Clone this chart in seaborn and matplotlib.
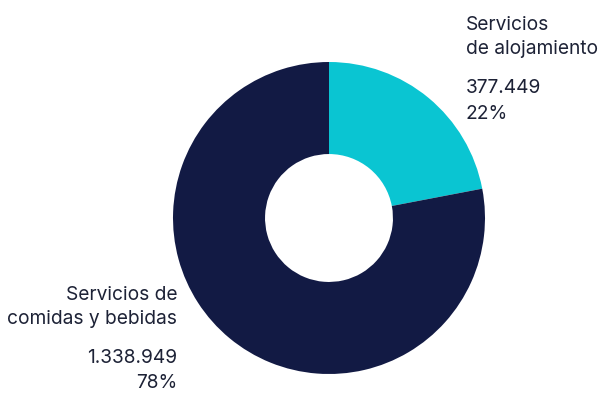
import matplotlib
matplotlib.use("Agg")
import matplotlib.pyplot as plt
import seaborn as sns

# datos del gráfico
categorias = ["Servicios\nde alojamiento", "Servicios de\ncomidas y bebidas"]
valores = [377449, 1338949]
etiquetas_valor = ["377.449", "1.338.949"]
porcentajes = ["22%", "78%"]
colores = ["#0ac5d2", "#121a44"]

sns.set_theme(style="white")
plt.rcParams["font.family"] = ["Inter", "DejaVu Sans"]

W, H = 611, 395
fig = plt.figure(figsize=(W / 100, H / 100), dpi=100)

# posición del donut en píxeles
cx, cy, r = 329, 218, 156
ax = fig.add_axes([(cx - r) / W, (H - cy - r) / H, 2 * r / W, 2 * r / H])
ax.pie(valores, colors=colores, startangle=90, counterclock=False,
       radius=1, wedgeprops=dict(width=0.59, linewidth=0))
ax.set_xlim(-1, 1)
ax.set_ylim(-1, 1)
ax.set_aspect("equal")
ax.axis("off")

color_texto = "#1d2236"
fs = 13.8

# texto derecha (alojamiento)
fig.text(466 / W, 1 - 30 / H, "Servicios", fontsize=fs, color=color_texto, ha="left", va="baseline")
fig.text(466 / W, 1 - 54 / H, "de alojamiento", fontsize=fs, color=color_texto, ha="left", va="baseline")
fig.text(466 / W, 1 - 93 / H, etiquetas_valor[0], fontsize=fs, color=color_texto, ha="left", va="baseline")
fig.text(466 / W, 1 - 119 / H, porcentajes[0], fontsize=fs, color=color_texto, ha="left", va="baseline")

# texto izquierda (comidas y bebidas)
fig.text(177 / W, 1 - 300 / H, "Servicios de", fontsize=fs, color=color_texto, ha="right", va="baseline")
fig.text(177 / W, 1 - 324 / H, "comidas y bebidas", fontsize=fs, color=color_texto, ha="right", va="baseline")
fig.text(177 / W, 1 - 363 / H, etiquetas_valor[1], fontsize=fs, color=color_texto, ha="right", va="baseline")
fig.text(177 / W, 1 - 388 / H, porcentajes[1], fontsize=fs, color=color_texto, ha="right", va="baseline")

fig.savefig("out.png", dpi=100, facecolor="white")
